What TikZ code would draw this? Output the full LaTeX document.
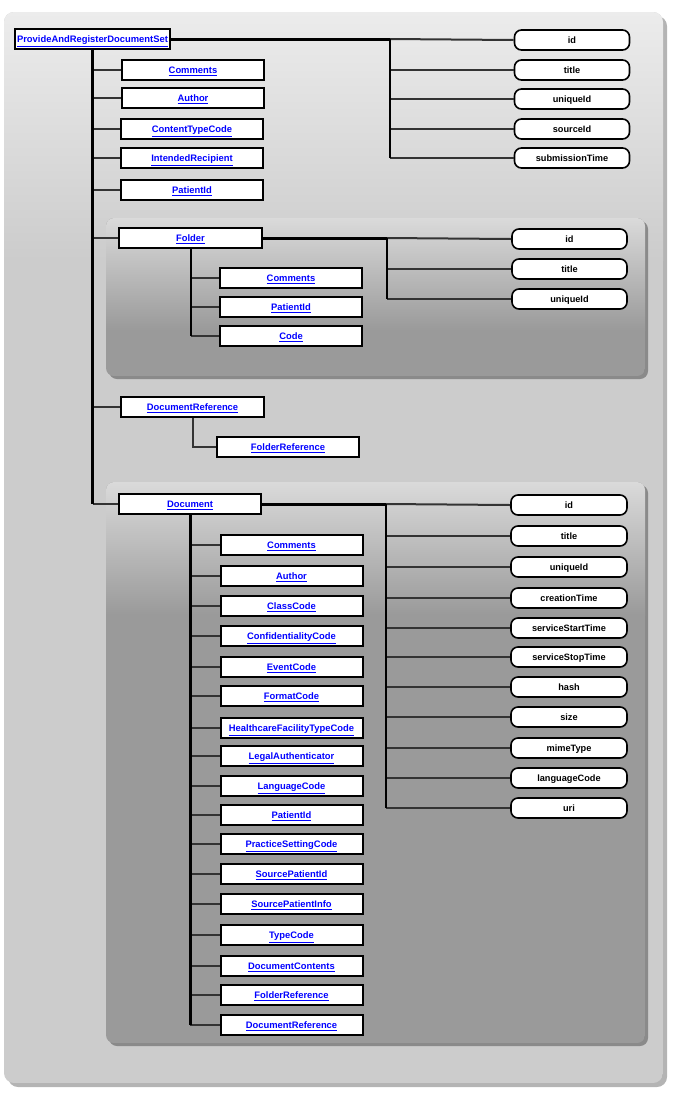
\documentclass[tikz,border=0pt]{standalone}
\usepackage{fontspec}
\newfontfamily\diafont{Liberation Sans}
\usetikzlibrary{calc}
\definecolor{linkblue}{HTML}{0000FF}
\definecolor{panellight}{HTML}{ECECEC}
\definecolor{panelgray}{HTML}{CCCCCC}
\definecolor{panelshadow}{HTML}{B4B4B4}
\definecolor{grouplight}{HTML}{DADADA}
\definecolor{groupgray}{HTML}{9A9A9A}
\definecolor{groupshadow}{HTML}{8A8A8A}
\definecolor{branchgray}{HTML}{333333}
\tikzset{
  cls/.style={draw=black, line width=2pt, fill=white, minimum width=142pt, minimum height=20pt, inner sep=0pt,
    text height=6.7pt, text depth=0pt,
    text=linkblue, font=\diafont\bfseries\fontsize{9.4}{10}\selectfont},
  attr/.style={draw=black, line width=1.6pt, fill=white, rounded corners=7pt, minimum width=115pt, minimum height=20pt, inner sep=0pt,
    text height=6.6pt, text depth=0pt,
    font=\diafont\bfseries\fontsize{9.2}{10}\selectfont},
  trunk/.style={line width=3pt, black},
  attrtrunk/.style={line width=2pt, black},
  branch/.style={line width=2pt, branchgray},
}
\newcommand{\lnk}[1]{\underline{#1}}
\begin{document}
\begin{tikzpicture}[x=1pt,y=-1pt]
		\useasboundingbox (0,0) rectangle (684,1104);
		%%%%% PANELS %%%%%
		\fill[panelshadow, rounded corners=10pt] (8,16) rectangle (667,1087);
		\begin{scope}
			\clip[rounded corners=10pt] (4,12) rectangle (663,1083);
			\fill[panelgray] (4,12) rectangle (663,1083);
			\shade[top color=panellight, bottom color=panelgray] (4,12) rectangle (663,260);
		\end{scope}
		
		\fill[groupshadow, rounded corners=8pt] (109,221) rectangle (648,379);
		\begin{scope}
			\clip[rounded corners=8pt] (106,218) rectangle (645,376);
			\fill[groupgray] (106,218) rectangle (645,376);
			\shade[top color=grouplight, bottom color=groupgray] (106,218) rectangle (645,330);
		\end{scope}
		
		\fill[groupshadow, rounded corners=8pt] (109,485) rectangle (648,1046);
		\begin{scope}
			\clip[rounded corners=8pt] (106,482) rectangle (645,1043);
			\fill[groupgray] (106,482) rectangle (645,1043);
			\shade[top color=grouplight, bottom color=groupgray] (106,482) rectangle (645,615);
		\end{scope}
		
		%%%%% SUBMISSION SET %%%%%
		\node[cls, minimum width=155pt] (root) at (92.5,39) {\lnk{ProvideAndRegisterDocumentSet}};
		
		\node[cls] (rcomments) at (193,70) {\lnk{Comments}};
		\node[cls] (rauthor) at (193,98) {\lnk{Author}};
		\node[cls] (rcontent) at (192,129) {\lnk{ContentTypeCode}};
		\node[cls] (rrecipient) at (192,158) {\lnk{IntendedRecipient}};
		\node[cls] (rpatient) at (192,190) {\lnk{PatientId}};
		
		\node[attr] (rid) at (572,40) {id};
		\node[attr] (rtitle) at (572,70) {title};
		\node[attr] (runique) at (572,99) {uniqueId};
		\node[attr] (rsource) at (572,129) {sourceId};
		\node[attr] (rsubmit) at (572,158) {submissionTime};
		
		%%%%% FOLDER %%%%%
		\node[cls, minimum width=143pt] (folder) at (190.5,238) {\lnk{Folder}};
		\node[cls] (fcomments) at (291,278) {\lnk{Comments}};
		\node[cls] (fpatient) at (291,307) {\lnk{PatientId}};
		\node[cls] (fcode) at (291,336) {\lnk{Code}};
		
		\node[attr] (fid) at (569.5,239) {id};
		\node[attr] (ftitle) at (569.5,269) {title};
		\node[attr] (funique) at (569.5,299) {uniqueId};
		
		%%%%% DOCUMENT REFERENCE %%%%%
		\node[cls, minimum width=143pt] (docref) at (192.5,407) {\lnk{DocumentReference}};
		\node[cls] (drfolder) at (288,447) {\lnk{FolderReference}};
		
		%%%%% DOCUMENT %%%%%
		\node[cls] (doc) at (190,504) {\lnk{Document}};
		\node[cls] (dcomments) at (291.5,545) {\lnk{Comments}};
		\node[cls] (dauthor) at (291.5,576) {\lnk{Author}};
		\node[cls] (dclass) at (291.5,606) {\lnk{ClassCode}};
		\node[cls] (dconf) at (291.5,636) {\lnk{ConfidentialityCode}};
		\node[cls] (devent) at (291.5,667) {\lnk{EventCode}};
		\node[cls] (dformat) at (291.5,696) {\lnk{FormatCode}};
		\node[cls] (dfacility) at (291.5,728) {\lnk{HealthcareFacilityTypeCode}};
		\node[cls] (dlegal) at (291.5,756) {\lnk{LegalAuthenticator}};
		\node[cls] (dlang) at (291.5,786) {\lnk{LanguageCode}};
		\node[cls] (dpatient) at (291.5,815) {\lnk{PatientId}};
		\node[cls] (dpractice) at (291.5,844) {\lnk{PracticeSettingCode}};
		\node[cls] (dsrcid) at (291.5,874) {\lnk{SourcePatientId}};
		\node[cls] (dsrcinfo) at (291.5,904) {\lnk{SourcePatientInfo}};
		\node[cls] (dtype) at (291.5,935) {\lnk{TypeCode}};
		\node[cls] (dcontents) at (291.5,966) {\lnk{DocumentContents}};
		\node[cls] (dfolder) at (291.5,995) {\lnk{FolderReference}};
		\node[cls] (ddocref) at (291.5,1025) {\lnk{DocumentReference}};
		
		\node[attr, minimum width=116pt] (did) at (569,505) {id};
		\node[attr, minimum width=116pt] (dtitle) at (569,536) {title};
		\node[attr, minimum width=116pt] (dunique) at (569,567) {uniqueId};
		\node[attr, minimum width=116pt] (dcreation) at (569,598) {creationTime};
		\node[attr, minimum width=116pt] (dstart) at (569,628) {serviceStartTime};
		\node[attr, minimum width=116pt] (dstop) at (569,657) {serviceStopTime};
		\node[attr, minimum width=116pt] (dhash) at (569,687) {hash};
		\node[attr, minimum width=116pt] (dsize) at (569,717) {size};
		\node[attr, minimum width=116pt] (dmime) at (569,748) {mimeType};
		\node[attr, minimum width=116pt] (dlangcode) at (569,778) {languageCode};
		\node[attr, minimum width=116pt] (duri) at (569,808) {uri};
		
		%%%%% CONNECTORS %%%%%
		\coordinate (rjoin) at (390,39);
		\coordinate (fjoin) at (387,238);
		\coordinate (djoin) at (386,504);
		
		% submission set
		\draw[branch] (rcomments.west) -- (rcomments.west -| root.south);
		\draw[branch] (rauthor.west) -- (rauthor.west -| root.south);
		\draw[branch] (rcontent.west) -- (rcontent.west -| root.south);
		\draw[branch] (rrecipient.west) -- (rrecipient.west -| root.south);
		\draw[branch] (rpatient.west) -- (rpatient.west -| root.south);
		\draw[branch] (folder.west) -- (folder.west -| root.south);
		\draw[branch] (docref.west) -- (docref.west -| root.south);
		\draw[branch] (doc.west) -- (doc.west -| root.south);
		\draw[trunk] (root.south) -- (root.south |- doc.west);
		
		\draw[branch] (rjoin) -- (rid.west);
		\draw[branch] (rjoin |- rtitle.west) -- (rtitle.west);
		\draw[branch] (rjoin |- runique.west) -- (runique.west);
		\draw[branch] (rjoin |- rsource.west) -- (rsource.west);
		\draw[branch] (rjoin |- rsubmit.west) -- (rsubmit.west);
		\draw[attrtrunk] (rjoin) -- (rjoin |- rsubmit.west);
		\draw[trunk] (root.east) -- (rjoin);
		
		% folder
		\draw[branch] (fcomments.west) -- (fcomments.west -| folder.south);
		\draw[branch] (fpatient.west) -- (fpatient.west -| folder.south);
		\draw[branch] (fcode.west) -- (fcode.west -| folder.south);
		\draw[attrtrunk] (folder.south) -- (folder.south |- fcode.west);
		
		\draw[branch] (fjoin) -- (fid.west);
		\draw[branch] (fjoin |- ftitle.west) -- (ftitle.west);
		\draw[branch] (fjoin |- funique.west) -- (funique.west);
		\draw[attrtrunk] (fjoin) -- (fjoin |- funique.west);
		\draw[trunk] (folder.east) -- (fjoin);
		
		% document reference
		\draw[branch] (docref.south) |- (drfolder.west);
		
		% document
		\draw[branch] (dcomments.west) -- (dcomments.west -| doc.south);
		\draw[branch] (dauthor.west) -- (dauthor.west -| doc.south);
		\draw[branch] (dclass.west) -- (dclass.west -| doc.south);
		\draw[branch] (dconf.west) -- (dconf.west -| doc.south);
		\draw[branch] (devent.west) -- (devent.west -| doc.south);
		\draw[branch] (dformat.west) -- (dformat.west -| doc.south);
		\draw[branch] (dfacility.west) -- (dfacility.west -| doc.south);
		\draw[branch] (dlegal.west) -- (dlegal.west -| doc.south);
		\draw[branch] (dlang.west) -- (dlang.west -| doc.south);
		\draw[branch] (dpatient.west) -- (dpatient.west -| doc.south);
		\draw[branch] (dpractice.west) -- (dpractice.west -| doc.south);
		\draw[branch] (dsrcid.west) -- (dsrcid.west -| doc.south);
		\draw[branch] (dsrcinfo.west) -- (dsrcinfo.west -| doc.south);
		\draw[branch] (dtype.west) -- (dtype.west -| doc.south);
		\draw[branch] (dcontents.west) -- (dcontents.west -| doc.south);
		\draw[branch] (dfolder.west) -- (dfolder.west -| doc.south);
		\draw[branch] (ddocref.west) -- (ddocref.west -| doc.south);
		\draw[trunk] (doc.south) -- (doc.south |- ddocref.west);
		
		\draw[branch] (djoin) -- (did.west);
		\draw[branch] (djoin |- dtitle.west) -- (dtitle.west);
		\draw[branch] (djoin |- dunique.west) -- (dunique.west);
		\draw[branch] (djoin |- dcreation.west) -- (dcreation.west);
		\draw[branch] (djoin |- dstart.west) -- (dstart.west);
		\draw[branch] (djoin |- dstop.west) -- (dstop.west);
		\draw[branch] (djoin |- dhash.west) -- (dhash.west);
		\draw[branch] (djoin |- dsize.west) -- (dsize.west);
		\draw[branch] (djoin |- dmime.west) -- (dmime.west);
		\draw[branch] (djoin |- dlangcode.west) -- (dlangcode.west);
		\draw[branch] (djoin |- duri.west) -- (duri.west);
		\draw[attrtrunk] (djoin) -- (djoin |- duri.west);
		\draw[trunk] (doc.east) -- (djoin);
\end{tikzpicture}
\end{document}
